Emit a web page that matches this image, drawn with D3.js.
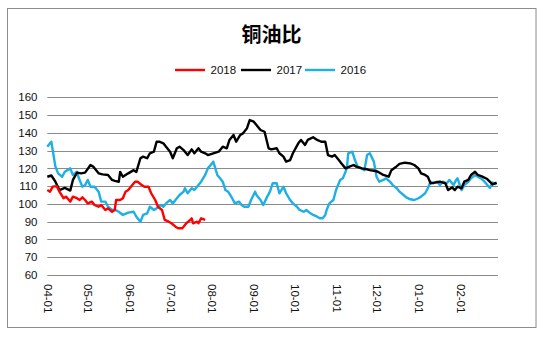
<!DOCTYPE html>
<html><head><meta charset="utf-8">
<script src="https://cdn.jsdelivr.net/npm/d3@7"></script>
<style>
html,body{margin:0;padding:0;background:#fff;}
svg{display:block;}
</style></head>
<body>
<script>
// ---- data (day offset from 04-01, ratio value) ----
const title = "铜油比";
const seriesNames = ["2018", "2017", "2016"];
const yTicks = [60, 70, 80, 90, 100, 110, 120, 130, 140, 150, 160];
const xTickLabels = ["04-01","05-01","06-01","07-01","08-01","09-01","10-01","11-01","12-01","01-01","02-01"];

const days2018 = [0,2,4,7,9,12,14,17,19,22,24,26,28,30,33,35,38,40,43,45,48,50,51,54,56,58,60,63,65,67,70,72,75,77,80,82,85,87,90,92,95,97,100,101,103,106,107,108,111,112,114,117];
const vals2018 = [107.8,106.9,109.7,110,106.9,103.2,104.1,101.3,104.1,103.2,102.2,103.7,102.2,100.3,101.3,99.4,98.4,99.4,96.6,97.5,95.6,96.6,102.2,102.2,103.2,106.9,107.8,110.6,112.5,112.5,110.6,109.7,109.7,106,102.2,98.4,96.6,91,90,89.1,87.2,86.3,86.3,87.2,89.1,91,91.9,89.1,90,89.1,91.9,91];

const days2017 = [0,3,6,9,13,17,19,22,25,28,32,34,38,41,45,48,50,53,54,56,60,64,66,69,71,74,76,79,81,83,86,88,91,93,96,98,101,102,104,107,109,112,114,117,119,123,127,130,133,135,138,140,143,145,148,150,153,155,158,161,164,166,170,172,175,177,180,182,186,188,191,193,197,200,203,206,208,211,213,216,218,221,224,227,229,233,237,239,242,245,249,253,255,258,261,265,269,272,275,277,280,282,284,287,291,295,297,300,302,304,307,309,312,314,317,319,322,326,330,333];
const vals2017 = [115.3,116,112.5,107.8,109,107.5,113.5,117.6,117.2,117.6,121.9,121,117.2,116.6,116.3,113.5,113,112.5,118,115.3,117.2,119,118,125.7,126.6,125.7,128.5,129.4,135,135,134.1,132.2,129.4,125.7,131.3,132.2,130.3,129.4,127.5,130.7,128.5,131.3,129.4,128.5,127.5,128.5,129.4,132.2,131.3,136,138.8,135,138.8,139.7,142.6,147.2,146.3,144.4,141.6,140.6,131.3,130.7,131.3,128.5,126.6,123.8,124.7,128.5,134.1,136,133.2,136,137.5,136,135,135,127.5,126.6,127.5,124.7,122.8,120,121,121.9,121,120,119.5,119,118.7,118.1,116.3,115.3,119,120.6,122.5,123.2,122.8,121.9,120,117.2,116.3,115.3,111.6,112,112.5,111.6,107.8,109.3,107.8,109.7,108.8,112.5,113.5,116.3,118.1,116.3,115.5,114,111,112];

const days2016 = [0,2,3,6,8,11,13,17,19,22,23,26,28,30,32,35,38,40,43,45,48,50,53,56,60,64,66,69,71,74,76,79,81,84,86,88,91,93,96,98,101,102,104,107,109,112,114,117,119,122,123,126,128,130,132,134,137,139,142,144,146,149,151,154,155,158,160,163,165,167,170,172,175,177,180,182,185,187,190,192,195,197,200,202,204,206,207,209,212,214,217,219,222,223,226,228,230,233,235,237,239,242,244,246,249,251,254,256,259,261,264,266,269,272,275,277,280,282,284,286,289,291,293,296,298,301,303,304,307,309,312,314,317,319,322,324,328,330,333];
const vals2016 = [132.2,134.1,135,121,117.2,115.3,118.1,120,116.3,118.1,115.3,109.7,110.6,113.5,109.7,109.7,106.9,101.3,101.3,98.4,96.6,96.8,95.6,93.8,95.1,95.6,92.8,90,93.8,94.7,98.4,96.6,97.5,99.4,98.4,100.3,102.2,100.3,103.2,105,106.9,108.8,106,108.8,107.8,110.6,112.5,116.3,120,122.8,123.8,116.3,114.4,112.5,107.8,106.9,103.2,100.3,101.3,99.4,98.4,98.4,102.2,106.9,105,102.2,99.4,104.1,106.9,111.6,111.6,106,109.7,106,102.2,100.3,98.4,96.6,95.6,96.6,94.7,93.8,92.8,91.9,91.9,93.8,96.6,100.3,102.2,107.8,113.5,114.4,120,128.5,129.4,124.7,121,120,119,127.5,128.5,123.8,115.3,112.5,113.5,114.4,112.5,110.6,108.8,106.9,105,103.7,102.6,102.2,103.2,104.1,106,108.8,112.5,111.6,112.5,110.6,112.5,111.6,113.5,110.6,113.5,114.4,107.8,110.6,112.5,114.4,116.3,115.3,114,112.5,109,112,111];

const colors = {"2018": "#FF0000", "2017": "#000000", "2016": "#1EAFE4"};

// ---- layout ----
const W = 548, H = 337;
const svg = d3.select("body").append("svg").attr("width", W).attr("height", H);

svg.append("rect").attr("x", 7.5).attr("y", 8.5).attr("width", 528.5).attr("height", 319)
  .attr("fill", "#fff").attr("stroke", "#8c8c8c").attr("stroke-width", 1);

const x0 = Date.UTC(2017, 3, 1);
const DAY = 86400000;
const x = d3.scaleUtc().domain([new Date(x0), new Date(x0 + 334 * DAY)]).range([47.3, 498]);
const y = d3.scaleLinear().domain([60, 160]).range([275, 97.3]);

// grid
const g = svg.append("g");
g.selectAll("line.grid").data(yTicks).join("line")
  .attr("x1", 47.3).attr("x2", 498)
  .attr("y1", d => Math.round(y(d)) + 0.5).attr("y2", d => Math.round(y(d)) + 0.5)
  .attr("stroke", "#8a8a8a").attr("stroke-width", 1);

// y labels
const yAxis = d3.axisLeft(y).tickValues(yTicks).tickSize(0).tickPadding(0);
const ya = svg.append("g").attr("transform", "translate(37.5,0)").call(yAxis);
ya.select(".domain").remove();
ya.selectAll("text").attr("font-family", "Liberation Sans, Arial, sans-serif")
  .attr("font-size", 11.5).attr("fill", "#111");

// x labels (rotated)
const monthDates = xTickLabels.map((s, i) => new Date(Date.UTC(2017, 3 + i, 1)));
const xAxis = d3.axisBottom(x).tickValues(monthDates).tickSize(0).tickPadding(0)
  .tickFormat((d, i) => xTickLabels[i]);
const xa = svg.append("g").attr("transform", "translate(0,284)").call(xAxis);
xa.select(".domain").remove();
xa.selectAll("text")
  .attr("font-family", "Liberation Sans, Arial, sans-serif").attr("font-size", 11.5).attr("fill", "#111")
  .attr("text-anchor", "start").attr("transform", "rotate(90)")
  .attr("x", 0).attr("y", 0).attr("dy", "0.35em");

// lines
const line = d3.line().x(d => x(new Date(x0 + d[0] * DAY))).y(d => y(d[1]));
const series = [
  {name: "2016", days: days2016, vals: vals2016},
  {name: "2017", days: days2017, vals: vals2017},
  {name: "2018", days: days2018, vals: vals2018}
];
series.forEach(s => {
  svg.append("path").datum(s.days.map((d, i) => [d, s.vals[i]]))
    .attr("d", line).attr("fill", "none").attr("stroke", colors[s.name])
    .attr("stroke-width", 2.4).attr("stroke-linejoin", "round");
});

// title
svg.append("text").attr("x", 271.5).attr("y", 33).attr("text-anchor", "middle")
  .attr("dominant-baseline", "central")
  .attr("font-family", "Noto Sans CJK SC, sans-serif").attr("font-weight", "bold")
  .attr("font-size", 20).attr("fill", "#000").text(title);

// legend
const legendX = [175, 241, 305];
const lg = svg.append("g");
seriesNames.forEach((n, i) => {
  lg.append("line").attr("x1", legendX[i]).attr("x2", legendX[i] + 30)
    .attr("y1", 70).attr("y2", 70).attr("stroke", colors[n]).attr("stroke-width", 2.4);
  lg.append("text").attr("x", legendX[i] + 35.5).attr("y", 70).attr("dy", "0.35em")
    .attr("font-family", "Liberation Sans, Arial, sans-serif").attr("font-size", 11.5)
    .attr("fill", "#111").text(n);
});
</script>
</body></html>
